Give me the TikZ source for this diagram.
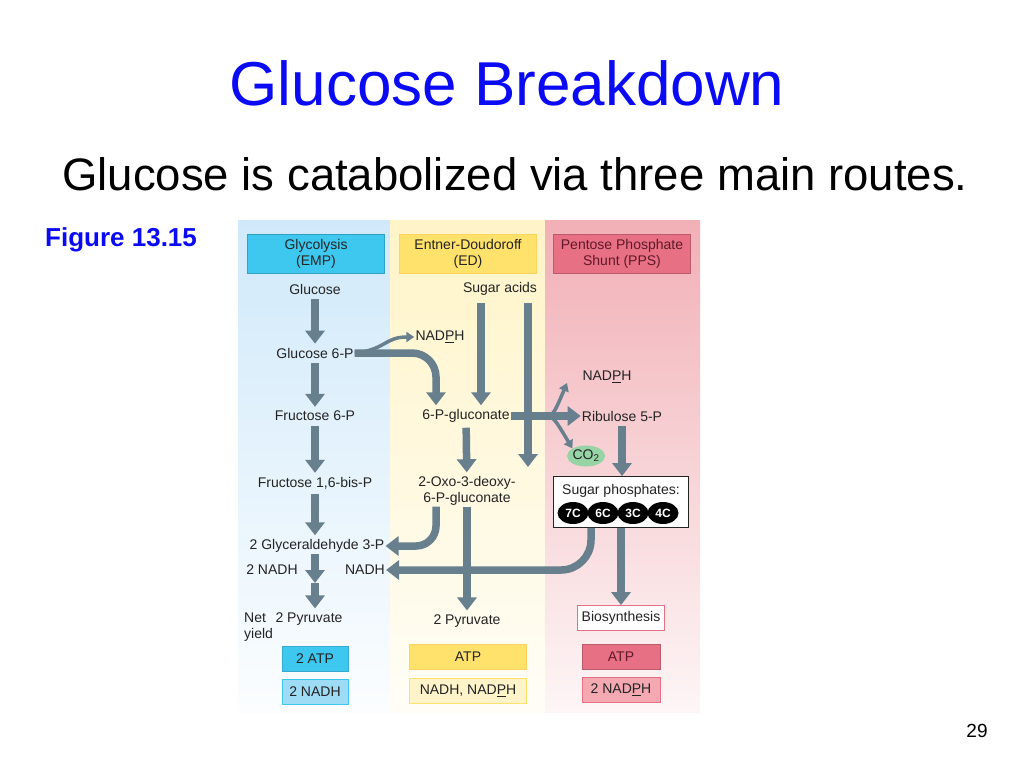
\documentclass[tikz,border=0pt]{standalone}
\usepackage{fontspec}
\setmainfont{Liberation Sans}
\usetikzlibrary{arrows.meta,shapes.geometric,positioning}
\definecolor{titleblue}{RGB}{10,10,245}
\definecolor{colblue}{RGB}{208,233,250}
\definecolor{colyellow}{RGB}{255,244,200}
\definecolor{colpink}{RGB}{241,176,182}
\definecolor{hdblue}{RGB}{62,200,240}
\definecolor{hdyellow}{RGB}{255,226,108}
\definecolor{hdpink}{RGB}{232,112,132}
\definecolor{lightblue}{RGB}{158,219,245}
\definecolor{lightyellow}{RGB}{255,243,202}
\definecolor{lightpink}{RGB}{243,168,178}
\definecolor{arrowgray}{RGB}{104,127,142}
\definecolor{cogreen}{RGB}{150,212,165}
\definecolor{txt}{RGB}{35,35,35}
\definecolor{darkred}{RGB}{95,25,40}

\begin{document}
\begin{tikzpicture}[x=1pt,y=-1pt,
        lbl/.style={text=txt,font=\fontsize{14}{16}\selectfont,inner sep=1pt},
        hdr/.style={lbl,draw,line width=0.8pt,minimum width=137pt,minimum height=39pt,align=center},
        yieldbox/.style={lbl,draw,line width=0.8pt,minimum height=25pt},
        fat/.style={arrowgray,line width=7.5pt,-{Triangle[width=19pt,length=13pt]}},
        slim/.style={arrowgray,line width=3.5pt,-{Triangle[width=10pt,length=8pt]}},
        carbon/.style={ellipse,fill=black,text=white,font=\fontsize{12}{12}\selectfont\bfseries,minimum width=31pt,minimum height=22pt,inner sep=0pt}]
                \useasboundingbox[fill=white] (0,0) rectangle (1024,768);
                \node[anchor=base,text=titleblue,font=\fontsize{62}{70}\selectfont] (title) at (507,105) {Glucose Breakdown};
                \node[anchor=base,font=\fontsize{45.5}{52}\selectfont] (subtitle) at (515,190) {Glucose is catabolized via three main routes.};
                \node[anchor=base west,inner sep=0pt,text=titleblue,font=\fontsize{26}{30}\selectfont\bfseries] (fig) at (45,246) {Figure 13.15};
                \node[anchor=base,inner sep=0pt,font=\fontsize{19}{22}\selectfont] (page) at (977,737) {29};
                \shade[top color=colblue,bottom color=colblue!8] (238,220) rectangle (390,712);
                \shade[top color=colyellow,bottom color=colyellow!15] (390,220) rectangle (545,712);
                \shade[top color=colpink,bottom color=colpink!12] (545,220) rectangle (700,712);
                \node[hdr,fill=hdblue,draw=hdblue!80!black] (emp) at (316,254) {Glycolysis\\(EMP)};
                \node[hdr,fill=hdyellow,draw=hdyellow!85!orange] (ed) at (468,254) {Entner-Doudoroff\\(ED)};
                \node[hdr,fill=hdpink,draw=hdpink!80!black,text=darkred] (pps) at (622,254) {Pentose Phosphate\\Shunt (PPS)};
                \node[lbl] (glc) at (315,289) {Glucose};
                \node[lbl] (g6p) at (315,353) {Glucose 6-P};
                \node[lbl] (f6p) at (315,416) {Fructose 6-P};
                \node[lbl] (fbp) at (315,483) {Fructose 1,6-bis-P};
                \node[lbl] (gap) at (317,546) {2 Glyceraldehyde 3-P};
                \node[lbl] (nadhA) at (272,570) {2 NADH};
                \node[lbl,anchor=east] (nadhB) at (386,570) {NADH};
                \node[lbl] (pyrA) at (309,619) {2 Pyruvate};
                \node[lbl,align=left,anchor=north west] (net) at (243,612) {Net\\yield};
                \node[yieldbox,fill=hdblue,draw=hdblue!85!black,minimum width=66pt] (atpA) at (315,659) {2 ATP};
                \node[yieldbox,fill=lightblue,draw=hdblue,minimum width=66pt] (nadhbox) at (315,692) {2 NADH};
                \node[lbl] (sug) at (500,289) {Sugar acids};
                \node[lbl] (nadphA) at (440,337) {NAD\underline{P}H};
                \node[lbl] (pg) at (466,416) {6-P-gluconate};
                \node[lbl,align=center] (oxo) at (467,491) {2-Oxo-3-deoxy-\\6-P-gluconate};
                \node[lbl] (pyrB) at (467,621) {2 Pyruvate};
                \node[yieldbox,fill=hdyellow,draw=hdyellow!85!orange,minimum width=117pt] (atpB) at (468,657) {ATP};
                \node[yieldbox,fill=lightyellow,draw=hdyellow,minimum width=117pt] (nadphbox) at (468,691) {NADH, NAD\underline{P}H};
                \node[lbl] (nadphB) at (607,377) {NAD\underline{P}H};
                \node[lbl] (rib) at (622,416) {Ribulose 5-P};
                \node[ellipse,fill=cogreen,minimum width=34pt,minimum height=21pt,inner sep=0pt,text=txt,font=\fontsize{14}{16}\selectfont] (co2) at (586,456) {CO\textsubscript{2}};
                \node[draw=txt,fill=white,line width=0.8pt,minimum width=135pt,minimum height=51pt] (sph) at (621,502) {};
                \node[lbl] (sphtext) at (621,491) {Sugar phosphates:};
                \node[carbon] (c7) at (573,513) {7C};
                \node[carbon] (c6) at (603,513) {6C};
                \node[carbon] (c3) at (633,513) {3C};
                \node[carbon] (c4) at (663,513) {4C};
                \node[yieldbox,fill=white,draw=hdpink,minimum width=87pt] (bio) at (621,618) {Biosynthesis};
                \node[yieldbox,fill=hdpink,draw=hdpink!80!black,text=darkred,minimum width=78pt] (atpC) at (621,657) {ATP};
                \node[yieldbox,fill=lightpink,draw=hdpink,minimum width=78pt] (nadphC) at (621,690) {2 NAD\underline{P}H};
                \coordinate (sa1) at (481,303);
                \coordinate (sa2) at (528,303);
                \coordinate (sa2end) at (528,467);
                \coordinate (mid) at (315,583);
                \coordinate (fork) at (543,416);
                \coordinate (upend) at (567,383);
                \draw[fat,shorten <=4pt,shorten >=3pt] (glc) -- (g6p);
                \draw[fat,shorten <=4pt,shorten >=3pt] (g6p) -- (f6p);
                \draw[fat,shorten <=4pt,shorten >=3pt] (f6p) -- (fbp);
                \draw[fat,shorten <=4pt,shorten >=3pt] (fbp.south) -- (fbp.south |- gap.north);
                \draw[fat] (mid |- gap.south) -- (mid);
                \draw[fat,shorten >=3pt] (mid) -- (mid |- pyrA.north);
                \draw[slim] (g6p.east) .. controls (385,350) and (385,337) .. (nadphA.west);
                \draw[fat,rounded corners=24pt] (g6p.east) -| ([xshift=-30pt,yshift=3pt]pg.north);
                \draw[fat] (sa1) -- ([yshift=3pt]sa1 |- pg.north);
                \draw[fat] (pg.east) -- (rib.west);
                \draw[slim] (fork) .. controls (553,416) .. (upend);
                \draw[slim] (fork) .. controls (553,416) .. (co2.north west);
                \draw[fat] (sa2) -- (sa2end);
                \draw[fat,shorten <=4pt,shorten >=3pt] (pg) -- (oxo);
                \draw[fat,rounded corners=20pt] ([xshift=-31pt]oxo.south) |- (gap.east);
                \draw[fat,rounded corners=30pt] ([xshift=-30pt]sph.south) |- (nadhB.east);
                \draw[fat,shorten >=3pt] (oxo.south) -- (pyrB.north);
                \draw[fat,shorten <=4pt] (rib.south) -- (rib.south |- sph.north);
                \draw[fat] (sph.south) -- (bio.north);
            \end{tikzpicture}
\end{document}
